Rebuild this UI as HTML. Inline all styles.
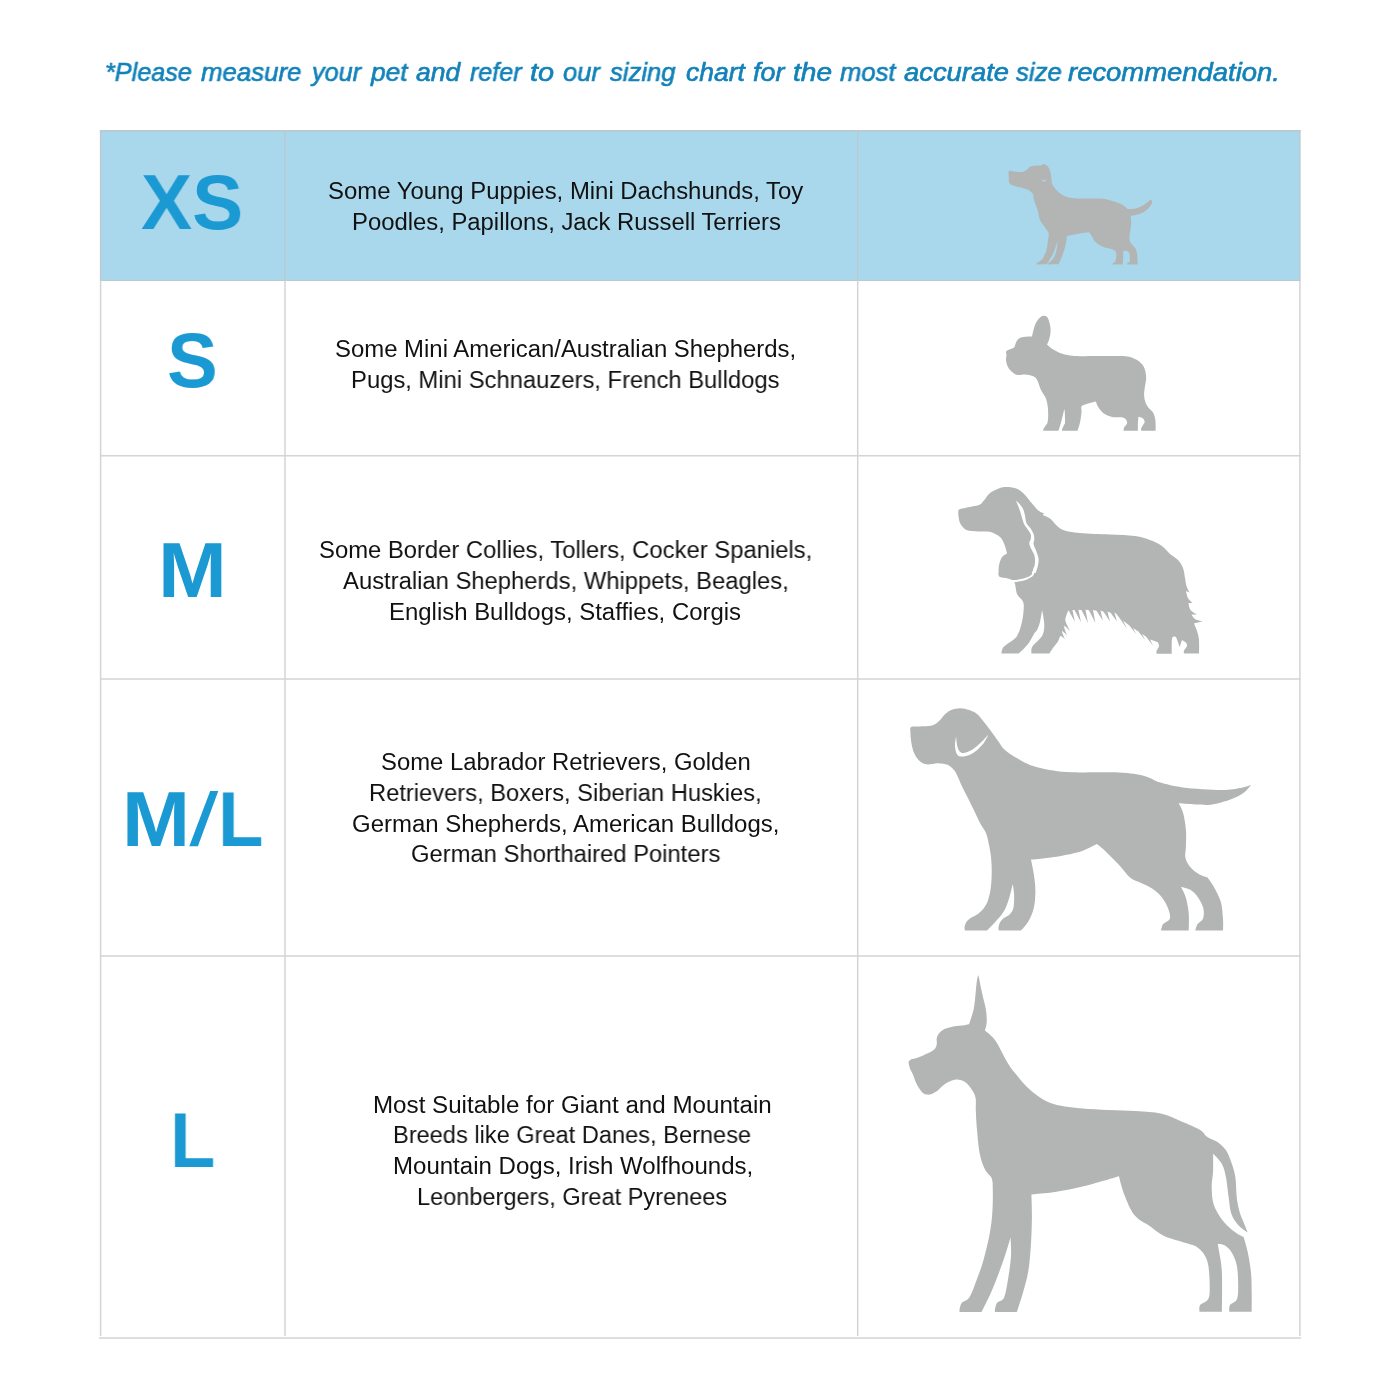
<!DOCTYPE html>
<html><head><meta charset="utf-8"><title>Size Chart</title>
<style>
html,body{margin:0;padding:0;background:#fff;overflow:hidden}
body{width:1400px;height:1400px;position:relative;overflow:hidden;font-family:"Liberation Sans",sans-serif}
.t,.hd,.lb{will-change:transform}
.hd{position:absolute;white-space:nowrap;font-style:italic;font-weight:normal;font-size:26.5px;line-height:40px;color:#1282b9;-webkit-text-stroke:0.65px #1282b9;transform-origin:0 0}
.lb{position:absolute;white-space:nowrap;font-weight:bold;font-size:78px;line-height:100px;color:#1b99d3;transform-origin:0 0}
.t{position:absolute;white-space:nowrap;transform-origin:0 0;font-size:23.85px;line-height:30.75px;color:#111111}
.dogs{position:absolute;left:0;top:0}
</style></head><body>
<span class="hd" style="left:105.3px;top:51.92px;transform:scaleX(0.952)">*Please</span>
<span class="hd" style="left:200.6px;top:51.92px;transform:scaleX(0.975)">measure</span>
<span class="hd" style="left:312.0px;top:51.92px;transform:scaleX(0.951)">your</span>
<span class="hd" style="left:371.0px;top:51.92px;transform:scaleX(0.99)">pet</span>
<span class="hd" style="left:415.7px;top:51.92px;transform:scaleX(0.998)">and</span>
<span class="hd" style="left:470.0px;top:51.92px;transform:scaleX(0.945)">refer</span>
<span class="hd" style="left:530.4px;top:51.92px;transform:scaleX(1.09)">to</span>
<span class="hd" style="left:562.9px;top:51.92px;transform:scaleX(0.963)">our</span>
<span class="hd" style="left:610.0px;top:51.92px;transform:scaleX(0.966)">sizing</span>
<span class="hd" style="left:685.7px;top:51.92px;transform:scaleX(1.0)">chart</span>
<span class="hd" style="left:753.3px;top:51.92px;transform:scaleX(1.013)">for</span>
<span class="hd" style="left:793.3px;top:51.92px;transform:scaleX(1.06)">the</span>
<span class="hd" style="left:840.0px;top:51.92px;transform:scaleX(0.968)">most</span>
<span class="hd" style="left:904.3px;top:51.92px;transform:scaleX(1.033)">accurate</span>
<span class="hd" style="left:1016.0px;top:51.92px;transform:scaleX(0.97)">size</span>
<span class="hd" style="left:1068.0px;top:51.92px;transform:scaleX(1.035)">recommendation.</span>
<div style="position:absolute;left:100px;top:130px;width:1200px;height:150px;background:#a9d8ec"></div>
<svg style="position:absolute;left:0;top:0" width="1400" height="1400"><line x1="99.9" y1="130.9" x2="1300.6" y2="130.9" stroke="#bacad1" stroke-width="1.6"/><line x1="99.9" y1="280.5" x2="1300.6" y2="280.5" stroke="#bacad1" stroke-width="1.2"/><line x1="99.9" y1="455.7" x2="1300.6" y2="455.7" stroke="#d4d4d4" stroke-width="1.5"/><line x1="99.9" y1="678.9" x2="1300.6" y2="678.9" stroke="#d4d4d4" stroke-width="1.5"/><line x1="99.9" y1="956.0" x2="1300.6" y2="956.0" stroke="#d4d4d4" stroke-width="1.5"/><line x1="99.0" y1="1337.9" x2="1301.1" y2="1337.9" stroke="#d4d4d4" stroke-width="1.5"/><line x1="100.6" y1="130.1" x2="100.6" y2="280.5" stroke="#bacad1" stroke-width="1.5"/><line x1="100.6" y1="280.5" x2="100.6" y2="1335.9" stroke="#d4d4d4" stroke-width="1.5"/><line x1="285.0" y1="130.1" x2="285.0" y2="280.5" stroke="#bacad1" stroke-width="1.5"/><line x1="285.0" y1="280.5" x2="285.0" y2="1335.9" stroke="#d4d4d4" stroke-width="1.5"/><line x1="857.7" y1="130.1" x2="857.7" y2="280.5" stroke="#bacad1" stroke-width="1.5"/><line x1="857.7" y1="280.5" x2="857.7" y2="1335.9" stroke="#d4d4d4" stroke-width="1.5"/><line x1="1299.9" y1="130.1" x2="1299.9" y2="280.5" stroke="#bacad1" stroke-width="1.5"/><line x1="1299.9" y1="280.5" x2="1299.9" y2="1335.9" stroke="#d4d4d4" stroke-width="1.5"/></svg>
<div class="lb" style="left:141.02px;top:151.87px;transform:scaleX(0.982)">XS</div>
<div class="lb" style="left:167.15px;top:310.17px;transform:scaleX(0.974)">S</div>
<div class="lb" style="left:157.70px;top:519.97px;transform:scaleX(1.06)">M</div>
<div class="lb" style="left:121.77px;top:768.97px;transform:scaleX(1.047)">M</div>
<div class="lb" style="left:218.44px;top:768.97px;transform:scaleX(0.953)">L</div>
<svg style="position:absolute;left:0;top:0" width="300" height="900"><polygon points="189.3,846.2 197.9,846.2 218.3,791 210.2,791" fill="#1b99d3"/></svg>
<div class="lb" style="left:170.15px;top:1089.77px;transform:scaleX(0.95)">L</div>
<div class="t" style="left:328.0px;top:176.06px;transform:scaleX(1.0025)">Some Young Puppies, Mini Dachshunds, Toy</div>
<div class="t" style="left:351.7px;top:206.56px;transform:scaleX(0.9991)">Poodles, Papillons, Jack Russell Terriers</div>
<div class="t" style="left:334.5px;top:334.26px;transform:scaleX(1.0028)">Some Mini American/Australian Shepherds,</div>
<div class="t" style="left:351.1px;top:365.06px;transform:scaleX(0.9979)">Pugs, Mini Schnauzers, French Bulldogs</div>
<div class="t" style="left:319.0px;top:535.26px;transform:scaleX(0.9988)">Some Border Collies, Tollers, Cocker Spaniels,</div>
<div class="t" style="left:342.9px;top:566.06px;transform:scaleX(0.9982)">Australian Shepherds, Whippets, Beagles,</div>
<div class="t" style="left:389.39px;top:596.76px;transform:scaleX(1.0037)">English Bulldogs, Staffies, Corgis</div>
<div class="t" style="left:381.0px;top:747.06px;transform:scaleX(0.9993)">Some Labrador Retrievers, Golden</div>
<div class="t" style="left:369.11px;top:777.96px;transform:scaleX(0.9944)">Retrievers, Boxers, Siberian Huskies,</div>
<div class="t" style="left:352.0px;top:808.66px;transform:scaleX(1.0045)">German Shepherds, American Bulldogs,</div>
<div class="t" style="left:411.0px;top:839.26px;transform:scaleX(0.9977)">German Shorthaired Pointers</div>
<div class="t" style="left:372.97px;top:1089.56px;transform:scaleX(1.0131)">Most Suitable for Giant and Mountain</div>
<div class="t" style="left:393.32px;top:1120.46px;transform:scaleX(0.9897)">Breeds like Great Danes, Bernese</div>
<div class="t" style="left:392.78px;top:1151.16px;transform:scaleX(1.0079)">Mountain Dogs, Irish Wolfhounds,</div>
<div class="t" style="left:417.43px;top:1181.96px;transform:scaleX(0.9871)">Leonbergers, Great Pyrenees</div>
<svg class="dogs" width="1400" height="1400" viewBox="0 0 1400 1400"><g fill="#b3b5b4"><path d="M1009.0,171.0 C1010.1,170.1 1013.3,171.4 1015.5,171.6 C1017.7,171.8 1020.3,172.3 1022.1,172.0 C1023.9,171.7 1025.0,170.8 1026.4,169.9 C1027.8,169.0 1028.9,167.1 1030.7,166.4 C1032.5,165.7 1035.4,165.8 1037.1,165.6 C1038.8,165.4 1039.8,165.5 1041.0,165.2 C1042.2,164.9 1042.8,163.8 1044.0,164.0 C1045.2,164.2 1046.9,165.3 1047.9,166.4 C1048.9,167.5 1049.4,168.9 1050.0,170.7 C1050.6,172.5 1051.0,174.9 1051.3,177.1 C1051.6,179.2 1051.2,181.4 1052.1,183.6 C1052.9,185.8 1054.2,187.9 1056.4,190.0 C1058.6,192.1 1061.9,194.9 1065.0,196.3 C1068.1,197.7 1070.8,198.0 1075.0,198.3 C1079.2,198.7 1085.3,198.3 1090.0,198.4 C1094.7,198.5 1099.4,198.2 1103.4,198.7 C1107.4,199.2 1111.0,200.4 1114.1,201.4 C1117.2,202.4 1119.9,203.3 1122.1,204.6 C1124.3,205.8 1127.5,208.9 1127.5,208.9 C1127.5,208.9 1133.0,208.9 1135.5,208.4 C1138.0,207.9 1140.5,206.8 1142.5,205.7 C1144.5,204.6 1146.5,202.9 1147.8,202.0 C1149.1,201.1 1149.8,200.2 1150.5,200.1 C1151.2,200.0 1151.9,200.7 1152.1,201.4 C1152.3,202.1 1152.3,202.8 1151.6,204.1 C1150.9,205.3 1149.3,207.5 1147.8,208.9 C1146.3,210.3 1144.4,211.7 1142.5,212.7 C1140.6,213.7 1138.6,214.3 1136.6,214.8 C1134.6,215.3 1130.7,215.9 1130.7,215.9 C1130.7,215.9 1131.2,219.8 1131.2,221.8 C1131.2,223.9 1131.0,226.0 1130.7,228.2 C1130.4,230.4 1129.8,233.1 1129.6,235.2 C1129.4,237.2 1129.3,238.9 1129.8,240.5 C1130.2,242.1 1131.3,243.5 1132.3,244.8 C1133.2,246.2 1134.7,247.1 1135.5,248.6 C1136.3,250.1 1136.7,251.2 1137.1,253.9 C1137.5,256.6 1137.7,264.6 1137.7,264.6 C1137.7,264.6 1127.0,264.6 1127.0,264.6 C1127.0,264.6 1127.1,263.5 1127.5,263.0 C1127.9,262.5 1129.2,262.5 1129.6,261.4 C1130.0,260.3 1130.0,258.0 1129.9,256.6 C1129.8,255.2 1129.7,253.8 1129.1,252.8 C1128.5,251.8 1127.4,251.0 1126.4,250.7 C1125.4,250.4 1123.2,251.2 1123.2,251.2 C1123.2,251.2 1123.2,254.4 1123.2,256.6 C1123.2,258.8 1122.9,264.6 1122.9,264.6 C1122.9,264.6 1112.5,264.6 1112.5,264.6 C1112.5,264.6 1112.5,263.5 1113.0,263.0 C1113.5,262.5 1114.7,262.5 1115.2,261.4 C1115.7,260.3 1116.1,258.2 1116.2,256.6 C1116.3,255.0 1116.5,253.1 1115.7,251.8 C1114.9,250.6 1113.5,249.9 1111.4,249.1 C1109.4,248.3 1106.1,248.2 1103.4,247.0 C1100.7,245.8 1097.4,244.0 1095.4,242.1 C1093.4,240.2 1092.7,237.3 1091.6,235.7 C1090.5,234.1 1089.0,232.3 1089.0,232.3 C1089.0,232.3 1083.7,232.9 1080.0,233.5 C1076.3,234.1 1067.0,236.0 1067.0,236.0 C1067.0,236.0 1066.8,238.1 1066.5,240.0 C1066.2,241.9 1065.7,245.0 1065.0,247.5 C1064.3,250.0 1063.2,252.9 1062.5,255.0 C1061.8,257.1 1061.2,258.4 1060.5,260.0 C1059.8,261.6 1058.5,264.3 1058.5,264.3 C1058.5,264.3 1048.0,264.5 1048.0,264.5 C1048.0,264.5 1047.8,263.8 1048.5,263.0 C1049.2,262.2 1050.9,261.3 1052.0,260.0 C1053.1,258.7 1054.2,257.1 1055.0,255.0 C1055.8,252.9 1056.6,249.8 1057.0,247.5 C1057.4,245.2 1057.6,241.0 1057.6,241.0 C1057.6,241.0 1056.3,245.2 1055.5,247.5 C1054.7,249.8 1053.4,253.1 1052.5,255.0 C1051.6,256.9 1050.9,257.4 1050.0,259.0 C1049.1,260.6 1047.0,264.3 1047.0,264.3 C1047.0,264.3 1036.5,264.5 1036.5,264.5 C1036.5,264.5 1036.2,263.8 1037.0,263.0 C1037.8,262.2 1040.3,261.2 1041.5,260.0 C1042.7,258.8 1043.2,257.7 1044.0,256.0 C1044.8,254.3 1045.8,252.7 1046.5,250.0 C1047.2,247.3 1047.7,242.8 1048.0,240.0 C1048.3,237.2 1049.2,235.3 1048.5,233.0 C1047.8,230.7 1045.4,228.2 1044.0,226.0 C1042.6,223.8 1041.1,222.7 1040.0,220.0 C1038.9,217.3 1038.5,213.3 1037.5,210.0 C1036.5,206.7 1034.8,202.6 1034.0,200.0 C1033.2,197.4 1033.8,196.0 1032.9,194.3 C1032.0,192.6 1030.4,191.1 1028.6,190.0 C1026.8,188.9 1024.6,188.6 1022.1,187.9 C1019.6,187.2 1015.7,186.5 1013.6,185.7 C1011.5,184.9 1010.1,184.5 1009.3,183.1 C1008.5,181.7 1008.8,179.0 1008.8,177.0 C1008.8,175.0 1007.9,171.9 1009.0,171.0 Z"/><path d="M1006.0,352.0 C1006.2,351.2 1006.7,350.8 1008.0,350.0 C1009.3,349.2 1012.7,348.8 1014.0,347.5 C1015.3,346.2 1015.2,344.0 1016.0,342.5 C1016.8,341.0 1017.5,339.5 1019.0,338.5 C1020.5,337.5 1022.8,337.1 1025.0,336.8 C1027.2,336.4 1032.0,336.5 1032.0,336.5 C1032.0,336.5 1033.8,328.0 1035.0,325.0 C1036.2,322.0 1037.6,320.0 1039.0,318.5 C1040.4,317.0 1042.1,315.9 1043.5,315.8 C1044.9,315.6 1046.4,316.0 1047.5,317.5 C1048.6,319.0 1049.5,322.5 1050.0,325.0 C1050.5,327.5 1050.7,330.0 1050.5,332.5 C1050.3,335.0 1049.6,338.0 1049.0,340.0 C1048.4,342.0 1047.0,344.5 1047.0,344.5 C1047.0,344.5 1050.3,347.6 1052.5,349.0 C1054.7,350.4 1057.1,351.9 1060.0,353.0 C1062.9,354.1 1066.7,355.0 1070.0,355.5 C1073.3,356.0 1075.8,356.1 1080.0,356.2 C1084.2,356.4 1087.7,356.1 1095.0,356.1 C1102.3,356.1 1116.9,355.6 1123.6,356.1 C1130.3,356.6 1132.0,357.7 1135.0,359.0 C1138.0,360.3 1140.2,362.1 1141.9,364.1 C1143.6,366.1 1144.6,368.5 1145.3,371.0 C1146.0,373.5 1146.2,376.1 1146.1,379.0 C1146.0,381.9 1145.0,385.4 1144.7,388.1 C1144.4,390.8 1144.0,392.7 1144.1,395.0 C1144.2,397.3 1144.5,399.7 1145.3,401.9 C1146.1,404.1 1147.5,406.4 1148.7,408.1 C1149.9,409.8 1151.7,410.5 1152.7,412.1 C1153.8,413.7 1154.5,416.0 1155.0,417.9 C1155.5,419.8 1155.5,421.5 1155.6,423.6 C1155.7,425.7 1155.6,430.7 1155.6,430.7 C1155.6,430.7 1141.3,430.7 1141.3,430.7 C1141.3,430.7 1140.9,429.2 1141.3,428.1 C1141.7,427.0 1143.0,425.1 1143.6,424.1 C1144.2,423.1 1144.8,422.8 1144.7,421.9 C1144.6,420.9 1144.0,419.3 1143.0,418.4 C1142.0,417.5 1138.4,416.7 1138.4,416.7 C1138.4,416.7 1138.0,421.3 1137.9,423.6 C1137.8,425.9 1137.9,430.7 1137.9,430.7 C1137.9,430.7 1123.6,430.7 1123.6,430.7 C1123.6,430.7 1123.5,428.8 1124.1,427.6 C1124.7,426.4 1126.7,424.9 1127.0,423.6 C1127.3,422.3 1126.8,420.7 1125.9,419.6 C1125.1,418.6 1124.2,417.7 1121.9,417.3 C1119.6,416.9 1115.1,417.7 1112.1,417.0 C1109.0,416.3 1106.0,415.1 1103.6,413.3 C1101.2,411.5 1099.2,408.4 1097.9,406.4 C1096.6,404.4 1096.0,401.5 1096.0,401.5 C1096.0,401.5 1091.8,402.5 1090.0,403.0 C1088.2,403.5 1086.4,403.9 1085.0,404.5 C1083.6,405.1 1082.1,405.2 1081.5,406.5 C1080.9,407.8 1081.8,409.8 1081.5,412.5 C1081.2,415.2 1080.7,419.5 1080.0,422.5 C1079.3,425.5 1077.5,430.8 1077.5,430.8 C1077.5,430.8 1062.0,430.8 1062.0,430.8 C1062.0,430.8 1061.9,430.0 1062.2,429.0 C1062.6,428.0 1063.5,426.1 1064.0,425.0 C1064.5,423.9 1064.9,424.6 1065.0,422.5 C1065.1,420.4 1064.9,414.8 1064.8,412.5 C1064.6,410.2 1064.2,409.0 1064.2,409.0 C1064.2,409.0 1064.0,410.2 1063.5,412.5 C1063.0,414.8 1061.8,419.5 1061.0,422.5 C1060.2,425.5 1058.5,430.8 1058.5,430.8 C1058.5,430.8 1043.2,430.8 1043.2,430.8 C1043.2,430.8 1043.0,430.0 1043.5,429.0 C1044.0,428.0 1045.3,426.1 1046.0,425.0 C1046.7,423.9 1047.1,424.2 1047.5,422.5 C1047.9,420.8 1048.2,417.9 1048.2,415.0 C1048.2,412.1 1048.0,407.9 1047.5,405.0 C1047.0,402.1 1046.6,400.0 1045.5,397.5 C1044.4,395.0 1042.4,393.0 1041.0,390.0 C1039.6,387.0 1038.3,381.7 1036.9,379.4 C1035.5,377.1 1034.5,376.8 1032.5,376.0 C1030.5,375.2 1027.5,374.7 1025.0,374.5 C1022.5,374.3 1019.8,375.5 1017.5,375.0 C1015.2,374.5 1013.2,373.0 1011.5,371.5 C1009.8,370.0 1008.4,367.9 1007.5,366.0 C1006.6,364.1 1006.2,361.8 1006.0,360.0 C1005.8,358.2 1006.5,356.3 1006.5,355.0 C1006.5,353.7 1005.8,352.8 1006.0,352.0 Z"/><path d="M958.6,510.0 C959.5,508.3 962.1,508.8 964.3,508.2 C966.5,507.6 969.4,507.1 972.0,506.5 C974.6,505.9 978.0,505.7 980.0,504.6 C982.0,503.5 982.6,501.9 984.3,500.0 C986.0,498.1 987.4,494.9 990.0,492.9 C992.6,490.9 996.9,488.9 1000.0,487.9 C1003.1,486.9 1005.6,486.9 1008.6,487.1 C1011.6,487.3 1015.0,487.9 1017.9,489.3 C1020.8,490.7 1023.3,493.3 1025.7,495.7 C1028.1,498.1 1029.9,501.1 1032.1,503.6 C1034.2,506.1 1036.4,509.0 1038.6,510.7 C1040.8,512.4 1045.0,513.6 1045.0,513.6 C1045.0,513.6 1042.2,514.2 1043.0,515.0 C1043.8,515.8 1046.9,516.2 1050.0,518.6 C1053.1,521.0 1056.4,526.8 1061.4,529.2 C1066.4,531.6 1071.9,532.1 1080.0,533.0 C1088.1,533.9 1100.8,534.0 1110.0,534.5 C1119.2,535.0 1128.3,535.1 1135.0,536.0 C1141.7,536.9 1145.5,538.3 1150.0,540.0 C1154.5,541.7 1158.7,543.7 1162.0,546.0 C1165.3,548.3 1167.3,551.7 1170.0,554.0 C1172.7,556.3 1175.8,557.7 1178.0,560.0 C1180.2,562.3 1181.8,565.0 1183.0,568.0 C1184.2,571.0 1184.4,575.0 1185.0,578.0 C1185.6,581.0 1185.8,583.6 1186.5,586.0 C1187.2,588.4 1189.5,592.5 1189.5,592.5 C1189.5,592.5 1186.0,591.0 1186.0,591.0 C1186.0,591.0 1186.9,596.0 1188.0,598.0 C1189.1,600.0 1192.5,603.0 1192.5,603.0 C1192.5,603.0 1188.5,603.0 1188.5,603.0 C1188.5,603.0 1189.1,608.1 1190.5,610.0 C1191.9,611.9 1197.0,614.5 1197.0,614.5 C1197.0,614.5 1191.5,614.5 1191.5,614.5 C1191.5,614.5 1193.1,617.8 1195.0,619.0 C1196.9,620.2 1202.7,621.6 1202.7,621.6 C1202.7,621.6 1194.0,623.5 1194.0,623.5 C1194.0,623.5 1196.2,628.2 1197.0,631.0 C1197.8,633.8 1198.7,636.2 1199.0,640.0 C1199.3,643.8 1199.0,653.5 1199.0,653.5 C1199.0,653.5 1184.0,653.5 1184.0,653.5 C1184.0,653.5 1183.5,651.8 1184.0,650.5 C1184.5,649.2 1186.7,647.3 1187.0,646.0 C1187.3,644.7 1186.0,642.5 1186.0,642.5 C1186.0,642.5 1182.0,640.0 1182.0,640.0 C1182.0,640.0 1179.7,647.1 1179.7,647.1 C1179.7,647.1 1176.5,638.0 1176.5,638.0 C1176.5,638.0 1175.5,636.3 1174.8,636.5 C1174.0,636.7 1172.5,636.1 1172.0,639.0 C1171.5,641.9 1171.8,653.8 1171.8,653.8 C1171.8,653.8 1156.6,653.8 1156.6,653.8 C1156.6,653.8 1156.2,652.0 1156.6,650.7 C1157.0,649.4 1158.8,647.5 1159.0,646.0 C1159.2,644.5 1157.5,642.0 1157.5,642.0 C1157.5,642.0 1150.0,639.4 1150.0,639.4 C1150.0,639.4 1153.5,646.5 1153.5,646.5 C1153.5,646.5 1146.0,636.6 1146.0,636.6 C1146.0,636.6 1142.0,633.9 1142.0,633.9 C1142.0,633.9 1145.5,640.5 1145.5,640.5 C1145.5,640.5 1138.0,631.1 1138.0,631.1 C1138.0,631.1 1133.0,627.9 1133.0,627.9 C1133.0,627.9 1136.5,634.5 1136.5,634.5 C1136.5,634.5 1129.0,625.1 1129.0,625.1 C1129.0,625.1 1123.0,620.4 1123.0,620.4 C1123.0,620.4 1127.0,628.5 1127.0,628.5 C1127.0,628.5 1119.0,617.2 1119.0,617.2 C1119.0,617.2 1116.8,614.3 1116.0,613.5 C1115.2,612.7 1114.5,612.5 1114.5,612.5 C1114.5,612.5 1117.0,621.5 1117.0,621.5 C1117.0,621.5 1110.5,612.8 1110.5,612.8 C1110.5,612.8 1107.5,611.5 1107.5,611.5 C1107.5,611.5 1110.0,621.5 1110.0,621.5 C1110.0,621.5 1103.5,611.8 1103.5,611.8 C1103.5,611.8 1100.5,610.5 1100.5,610.5 C1100.5,610.5 1103.0,620.8 1103.0,620.8 C1103.0,620.8 1096.5,610.8 1096.5,610.8 C1096.5,610.8 1093.0,610.0 1093.0,610.0 C1093.0,610.0 1095.5,623.0 1095.5,623.0 C1095.5,623.0 1089.0,610.3 1089.0,610.3 C1089.0,610.3 1085.5,609.8 1085.5,609.8 C1085.5,609.8 1088.0,622.8 1088.0,622.8 C1088.0,622.8 1081.5,610.1 1081.5,610.1 C1081.5,610.1 1078.5,609.8 1078.5,609.8 C1078.5,609.8 1081.0,622.3 1081.0,622.3 C1081.0,622.3 1074.5,610.1 1074.5,610.1 C1074.5,610.1 1072.5,610.0 1072.5,610.0 C1072.5,610.0 1075.0,622.0 1075.0,622.0 C1075.0,622.0 1068.5,610.3 1068.5,610.3 C1068.5,610.3 1067.0,613.2 1066.5,615.0 C1066.0,616.8 1064.9,618.4 1065.5,621.0 C1066.1,623.6 1070.0,630.9 1070.0,630.9 C1070.0,630.9 1064.5,625.2 1064.0,626.0 C1063.5,626.8 1067.1,635.4 1067.1,635.4 C1067.1,635.4 1062.4,630.3 1062.0,631.0 C1061.6,631.7 1064.9,639.4 1064.9,639.4 C1064.9,639.4 1061.6,635.7 1060.5,636.0 C1059.4,636.3 1059.5,639.0 1058.2,641.0 C1057.0,643.0 1054.5,645.9 1053.0,648.0 C1051.5,650.1 1049.3,653.6 1049.3,653.6 C1049.3,653.6 1031.4,653.6 1031.4,653.6 C1031.4,653.6 1031.2,650.6 1031.4,649.3 C1031.7,648.0 1031.7,647.2 1032.9,645.7 C1034.1,644.2 1036.9,641.9 1038.6,640.0 C1040.3,638.1 1042.0,636.9 1042.9,634.3 C1043.9,631.7 1044.4,628.3 1044.3,624.3 C1044.2,620.2 1042.1,610.0 1042.1,610.0 C1042.1,610.0 1040.8,618.7 1040.0,622.0 C1039.2,625.3 1038.0,628.1 1037.0,630.0 C1036.0,631.9 1035.8,631.2 1034.3,633.6 C1032.8,636.0 1030.5,641.0 1027.9,644.3 C1025.3,647.6 1018.6,653.6 1018.6,653.6 C1018.6,653.6 1001.4,653.6 1001.4,653.6 C1001.4,653.6 1001.8,649.6 1002.9,647.9 C1004.0,646.2 1005.6,645.4 1007.9,643.6 C1010.1,641.8 1014.1,640.3 1016.4,637.1 C1018.6,633.9 1020.2,628.8 1021.4,624.3 C1022.6,619.8 1023.4,613.8 1023.6,610.0 C1023.9,606.2 1024.0,604.0 1022.9,601.4 C1021.8,598.8 1018.5,597.5 1017.1,594.3 C1015.7,591.1 1015.8,584.7 1014.3,582.1 C1012.8,579.5 1010.4,579.6 1007.9,578.6 C1005.4,577.6 1000.8,577.6 999.3,576.4 C997.8,575.2 998.6,573.5 998.6,571.4 C998.6,569.3 998.7,566.4 999.3,564.0 C999.9,561.6 1000.8,558.8 1002.1,557.1 C1003.4,555.4 1007.1,553.6 1007.1,553.6 C1007.1,553.6 1005.5,547.0 1004.3,544.3 C1003.1,541.5 1002.3,539.1 1000.0,537.1 C997.7,535.1 994.3,533.1 990.7,532.1 C987.1,531.1 982.7,531.8 978.6,531.4 C974.5,531.0 969.4,531.2 966.4,530.0 C963.4,528.8 962.0,526.2 960.7,524.3 C959.5,522.4 959.2,521.0 958.9,518.6 C958.5,516.2 957.7,511.7 958.6,510.0 Z"/><path d="M911.1,727.1 C912.6,726.1 915.8,726.7 919.3,726.4 C922.8,726.1 928.8,726.3 932.1,725.4 C935.4,724.5 937.1,722.6 939.3,720.7 C941.4,718.9 943.0,716.1 945.0,714.3 C947.0,712.5 948.9,711.0 951.4,710.0 C953.9,709.0 957.0,708.2 960.0,708.2 C963.0,708.2 966.6,709.1 969.3,710.0 C972.0,710.9 974.0,711.7 976.4,713.6 C978.8,715.5 981.2,718.5 983.6,721.4 C986.0,724.2 988.3,727.5 990.7,730.7 C993.1,733.9 995.5,737.5 997.9,740.7 C1000.3,743.9 1001.2,746.7 1005.0,750.0 C1008.8,753.3 1015.7,757.6 1020.9,760.4 C1026.1,763.2 1028.6,765.0 1036.3,766.9 C1044.0,768.8 1053.4,771.1 1067.1,772.0 C1080.8,772.9 1105.7,771.9 1118.6,772.5 C1131.5,773.1 1137.4,774.3 1144.3,775.9 C1151.2,777.5 1153.3,780.4 1159.7,782.3 C1166.1,784.2 1172.6,786.1 1182.9,787.4 C1193.2,788.7 1211.9,789.9 1221.4,790.0 C1230.9,790.1 1235.1,788.9 1240.0,788.0 C1244.9,787.1 1251.0,784.9 1251.0,784.9 C1251.0,784.9 1246.5,791.1 1242.0,793.9 C1237.5,796.7 1229.8,799.8 1224.0,801.6 C1218.2,803.4 1215.0,804.6 1207.5,804.9 C1200.0,805.2 1178.7,803.3 1178.7,803.3 C1178.7,803.3 1182.0,808.8 1183.2,813.2 C1184.4,817.6 1185.5,824.3 1185.9,829.8 C1186.4,835.3 1186.0,841.8 1185.9,846.4 C1185.8,851.0 1184.8,854.2 1185.4,857.5 C1186.1,860.8 1187.6,863.6 1189.8,866.4 C1192.0,869.2 1195.8,872.2 1198.7,874.1 C1201.7,876.0 1207.5,877.5 1207.5,877.5 C1207.5,877.5 1212.0,883.4 1214.2,887.4 C1216.4,891.4 1219.3,896.6 1220.8,901.8 C1222.3,907.0 1222.6,913.6 1223.0,918.4 C1223.4,923.2 1223.0,930.6 1223.0,930.6 C1223.0,930.6 1195.3,930.6 1195.3,930.6 C1195.3,930.6 1196.3,926.0 1197.6,924.0 C1198.9,922.0 1202.2,921.2 1203.1,918.4 C1204.0,915.6 1204.2,911.3 1203.1,907.4 C1202.0,903.5 1198.8,898.2 1196.4,895.2 C1194.0,892.2 1191.3,890.5 1188.7,889.1 C1186.1,887.7 1180.9,886.9 1180.9,886.9 C1180.9,886.9 1184.1,892.0 1185.4,896.3 C1186.7,900.6 1188.2,907.2 1188.7,912.9 C1189.2,918.6 1188.7,930.6 1188.7,930.6 C1188.7,930.6 1161.0,930.6 1161.0,930.6 C1161.0,930.6 1161.7,926.0 1163.2,924.0 C1164.7,922.0 1169.2,921.2 1169.9,918.4 C1170.7,915.6 1169.2,911.1 1167.7,907.4 C1166.2,903.7 1163.6,899.4 1161.0,896.3 C1158.4,893.1 1155.4,890.7 1152.1,888.5 C1148.8,886.3 1144.8,884.8 1141.1,883.0 C1137.4,881.2 1133.8,880.6 1130.0,877.5 C1126.2,874.4 1123.1,869.3 1118.6,864.6 C1114.1,859.9 1106.8,852.5 1103.1,849.1 C1099.4,845.7 1096.7,844.0 1096.7,844.0 C1096.7,844.0 1087.1,849.5 1080.0,851.7 C1072.9,853.9 1060.1,856.0 1054.3,857.1 C1048.5,858.2 1048.0,857.9 1045.0,858.3 C1042.0,858.7 1038.8,859.1 1036.5,859.3 C1034.2,859.5 1031.0,859.7 1031.0,859.7 C1031.0,859.7 1033.1,868.7 1033.8,873.9 C1034.5,879.1 1035.4,885.2 1035.4,890.9 C1035.4,896.6 1035.0,902.8 1033.8,907.9 C1032.6,913.0 1030.5,917.7 1028.3,921.5 C1026.1,925.3 1020.9,930.6 1020.9,930.6 C1020.9,930.6 999.1,930.6 999.1,930.6 C999.1,930.6 998.3,929.6 998.4,928.3 C998.5,927.0 998.9,924.5 999.8,922.8 C1000.7,921.1 1002.3,919.5 1003.9,918.1 C1005.5,916.8 1007.7,916.4 1009.3,914.7 C1010.9,913.0 1012.6,911.3 1013.4,907.9 C1014.2,904.5 1014.2,898.3 1014.1,894.3 C1014.0,890.3 1012.7,884.1 1012.7,884.1 C1012.7,884.1 1010.8,893.2 1009.3,897.7 C1007.8,902.2 1006.2,907.3 1003.9,911.3 C1001.6,915.3 998.5,918.3 995.7,921.5 C992.9,924.7 986.9,930.6 986.9,930.6 C986.9,930.6 965.2,930.6 965.2,930.6 C965.2,930.6 964.4,929.6 964.5,928.3 C964.6,927.0 964.9,924.5 965.9,922.8 C966.9,921.1 968.5,919.7 970.6,918.1 C972.8,916.5 976.2,915.6 978.8,913.3 C981.4,911.0 984.3,908.2 986.2,904.5 C988.1,900.8 989.4,896.0 990.3,890.9 C991.2,885.8 991.6,879.5 991.7,873.9 C991.8,868.2 991.6,862.6 991.0,857.0 C990.4,851.4 988.9,844.2 988.0,840.0 C987.1,835.8 986.8,834.9 985.5,832.0 C984.2,829.1 982.1,826.8 980.0,822.9 C977.9,819.0 975.2,812.9 973.1,808.6 C971.0,804.3 969.3,800.9 967.4,797.1 C965.5,793.3 963.5,789.5 961.7,785.7 C959.9,781.9 958.1,777.1 956.6,774.3 C955.1,771.4 954.2,770.2 952.6,768.6 C951.0,767.0 949.0,765.5 946.9,764.6 C944.8,763.7 941.6,763.6 940.0,763.4 C938.4,763.2 939.4,763.1 937.1,763.2 C934.8,763.4 929.4,764.7 926.4,764.3 C923.4,763.9 921.3,762.5 919.3,760.7 C917.3,758.9 915.6,756.6 914.3,753.6 C913.0,750.6 912.0,746.5 911.4,742.9 C910.8,739.3 910.4,734.7 910.4,732.1 C910.4,729.5 909.6,728.1 911.1,727.1 Z"/><path d="M908.8,1061.6 C909.1,1060.8 909.9,1060.0 911.0,1059.4 C912.1,1058.8 913.6,1058.9 915.7,1058.2 C917.8,1057.5 920.7,1056.5 923.6,1055.2 C926.5,1053.9 930.7,1052.3 932.9,1050.6 C935.1,1048.9 935.9,1047.5 936.6,1045.2 C937.3,1042.9 936.1,1039.4 937.0,1036.9 C937.9,1034.4 939.4,1032.1 942.1,1030.4 C944.8,1028.7 949.6,1027.5 953.3,1026.6 C957.0,1025.7 961.8,1025.6 964.4,1025.2 C967.0,1024.8 969.1,1024.3 969.1,1024.3 C969.1,1024.3 972.6,1014.2 973.7,1009.0 C974.8,1003.8 975.1,998.0 975.6,993.2 C976.1,988.4 976.5,983.2 977.0,980.2 C977.5,977.2 978.4,975.1 978.4,975.1 C978.4,975.1 980.9,987.6 982.1,993.2 C983.3,998.9 985.0,1004.2 985.8,1009.0 C986.6,1013.8 986.9,1018.4 986.7,1022.0 C986.6,1025.6 984.9,1030.4 984.9,1030.4 C984.9,1030.4 988.5,1033.2 990.4,1035.0 C992.2,1036.8 994.1,1038.7 996.0,1041.5 C997.9,1044.3 999.8,1048.3 1001.6,1051.7 C1003.5,1055.1 1004.9,1058.3 1007.1,1061.9 C1009.3,1065.5 1011.1,1068.4 1015.0,1073.1 C1018.9,1077.8 1024.3,1085.1 1030.3,1090.1 C1036.3,1095.1 1042.5,1100.2 1051.2,1103.2 C1059.9,1106.2 1068.6,1107.1 1082.5,1108.4 C1096.4,1109.7 1121.6,1110.1 1134.6,1111.0 C1147.6,1111.9 1152.9,1111.9 1160.7,1113.6 C1168.5,1115.3 1174.9,1118.7 1181.5,1121.4 C1188.1,1124.1 1196.0,1127.4 1200.2,1130.0 C1204.5,1132.6 1204.1,1134.8 1207.0,1136.8 C1209.9,1138.8 1214.6,1140.0 1217.8,1142.2 C1221.0,1144.5 1223.7,1146.9 1226.0,1150.3 C1228.3,1153.7 1229.8,1158.1 1231.4,1162.6 C1233.0,1167.1 1234.5,1171.6 1235.4,1177.5 C1236.3,1183.4 1236.1,1192.1 1236.8,1197.8 C1237.5,1203.5 1238.4,1207.3 1239.5,1211.4 C1240.6,1215.5 1242.2,1218.7 1243.6,1222.2 C1245.0,1225.7 1247.7,1232.4 1247.7,1232.4 C1247.7,1232.4 1240.9,1228.0 1238.2,1224.9 C1235.5,1221.9 1233.0,1218.6 1231.4,1214.1 C1229.8,1209.6 1229.6,1203.9 1228.7,1197.8 C1227.8,1191.7 1227.1,1183.2 1226.0,1177.5 C1224.9,1171.8 1224.1,1167.9 1221.9,1163.9 C1219.8,1159.9 1213.1,1153.7 1213.1,1153.7 C1213.1,1153.7 1213.3,1165.2 1213.1,1170.7 C1212.9,1176.2 1211.6,1181.3 1211.7,1187.0 C1211.8,1192.7 1212.0,1199.2 1213.7,1204.6 C1215.4,1210.0 1218.7,1215.2 1221.9,1219.5 C1225.1,1223.8 1229.1,1227.5 1232.7,1230.4 C1236.3,1233.3 1243.6,1237.1 1243.6,1237.1 C1243.6,1237.1 1246.5,1246.2 1247.7,1252.1 C1248.9,1258.0 1250.3,1265.6 1251.0,1272.4 C1251.7,1279.2 1251.6,1286.2 1251.7,1292.8 C1251.8,1299.3 1251.7,1311.7 1251.7,1311.7 C1251.7,1311.7 1229.3,1311.7 1229.3,1311.7 C1229.3,1311.7 1228.8,1307.0 1230.0,1305.0 C1231.2,1303.0 1235.4,1302.7 1236.8,1299.5 C1238.2,1296.3 1238.2,1291.7 1238.2,1286.0 C1238.2,1280.3 1237.9,1271.2 1236.8,1265.6 C1235.7,1259.9 1233.4,1255.5 1231.4,1252.1 C1229.4,1248.7 1226.9,1246.7 1224.6,1245.3 C1222.3,1243.9 1217.8,1243.9 1217.8,1243.9 C1217.8,1243.9 1218.5,1247.3 1219.2,1252.1 C1219.9,1256.8 1221.5,1262.5 1221.9,1272.4 C1222.4,1282.3 1221.9,1311.7 1221.9,1311.7 C1221.9,1311.7 1199.5,1311.7 1199.5,1311.7 C1199.5,1311.7 1198.7,1307.1 1200.2,1305.0 C1201.7,1302.9 1206.7,1302.1 1208.3,1298.9 C1209.9,1295.7 1209.7,1291.5 1209.7,1286.0 C1209.7,1280.5 1209.2,1270.8 1208.3,1265.6 C1207.4,1260.4 1206.3,1258.0 1204.3,1254.8 C1202.3,1251.6 1199.5,1248.6 1196.1,1246.6 C1192.7,1244.6 1189.3,1244.4 1183.9,1242.6 C1178.5,1240.8 1169.2,1238.5 1163.6,1235.8 C1157.9,1233.1 1154.8,1229.7 1150.0,1226.3 C1145.2,1222.9 1138.9,1220.6 1134.6,1215.3 C1130.3,1210.0 1126.8,1200.9 1124.2,1194.4 C1121.6,1187.9 1119.0,1176.2 1119.0,1176.2 C1119.0,1176.2 1092.9,1184.0 1082.5,1186.6 C1072.1,1189.2 1063.3,1190.6 1056.4,1191.8 C1049.5,1193.0 1045.2,1193.1 1041.0,1193.6 C1036.8,1194.1 1031.4,1194.6 1031.4,1194.6 C1031.4,1194.6 1032.0,1209.8 1031.9,1218.2 C1031.8,1226.6 1031.5,1236.1 1030.9,1245.0 C1030.3,1253.9 1029.6,1263.7 1028.2,1271.7 C1026.8,1279.7 1024.7,1286.5 1022.8,1293.2 C1020.9,1299.9 1016.9,1311.9 1016.9,1311.9 C1016.9,1311.9 995.0,1311.9 995.0,1311.9 C995.0,1311.9 994.6,1310.7 995.0,1309.2 C995.4,1307.7 995.6,1304.8 997.1,1302.8 C998.6,1300.8 1002.2,1301.8 1004.1,1297.5 C1006.0,1293.2 1007.2,1284.1 1008.4,1277.1 C1009.5,1270.1 1010.6,1262.3 1011.0,1255.7 C1011.4,1249.1 1010.5,1237.5 1010.5,1237.5 C1010.5,1237.5 1007.6,1247.8 1005.7,1253.5 C1003.8,1259.2 1001.8,1265.1 999.3,1271.7 C996.8,1278.3 993.7,1286.5 990.7,1293.2 C987.8,1299.9 981.6,1311.9 981.6,1311.9 C981.6,1311.9 959.6,1311.9 959.6,1311.9 C959.6,1311.9 959.2,1310.7 959.6,1309.2 C960.0,1307.7 960.2,1304.8 961.8,1302.8 C963.4,1300.8 967.0,1300.9 969.3,1297.5 C971.6,1294.1 973.4,1288.6 975.7,1282.5 C978.0,1276.4 980.9,1269.0 983.2,1261.0 C985.5,1253.0 988.1,1242.3 989.6,1234.3 C991.1,1226.3 991.8,1219.9 992.3,1212.8 C992.8,1205.7 992.9,1197.1 992.8,1191.4 C992.7,1185.7 993.0,1182.2 991.8,1178.6 C990.5,1175.0 987.3,1173.9 985.3,1170.0 C983.3,1166.1 981.4,1161.7 980.0,1155.0 C978.6,1148.3 977.7,1137.5 977.0,1130.0 C976.3,1122.5 976.0,1115.3 975.8,1110.0 C975.6,1104.7 976.2,1101.5 975.6,1098.1 C975.0,1094.7 973.6,1092.4 971.9,1089.8 C970.2,1087.2 967.9,1084.0 965.4,1082.3 C962.9,1080.6 959.6,1079.8 957.0,1079.6 C954.4,1079.4 951.6,1080.7 949.6,1081.4 C947.6,1082.1 946.5,1082.9 945.0,1083.9 C943.5,1084.9 942.0,1086.3 940.7,1087.5 C939.4,1088.7 938.6,1090.0 937.1,1091.1 C935.6,1092.2 933.5,1093.3 931.8,1093.9 C930.1,1094.5 928.6,1094.8 927.1,1094.6 C925.6,1094.4 924.2,1093.9 922.9,1092.9 C921.6,1091.9 920.5,1090.4 919.3,1088.6 C918.1,1086.8 916.7,1084.4 915.7,1082.1 C914.7,1079.8 914.1,1077.1 913.2,1075.0 C912.3,1072.9 911.1,1071.3 910.4,1069.6 C909.7,1067.8 909.2,1065.8 908.9,1064.5 C908.6,1063.2 908.4,1062.4 908.8,1061.6 Z"/></g><path d="M1041.2,179.0 Q1043.9,184.2 1046.8,179.2 Q1043.9,181.6 1041.2,179.0 Z" fill="#c0d2da"/><path d="M1016.1,501.1 C1016.1,501.1 1017.7,504.7 1018.6,507.1 C1019.5,509.5 1020.6,513.1 1021.4,515.7 C1022.2,518.3 1022.7,520.8 1023.6,522.9 C1024.5,525.0 1025.9,526.7 1027.1,528.6 C1028.3,530.5 1030.1,532.5 1030.7,534.3 C1031.3,536.1 1030.9,537.9 1030.7,539.3 C1030.5,540.7 1029.3,541.5 1029.3,542.9 C1029.3,544.3 1029.9,545.9 1030.7,547.9 C1031.5,549.9 1033.6,552.6 1034.3,555.0 C1035.0,557.4 1035.1,559.7 1035.0,562.1 C1034.9,564.5 1034.2,567.5 1033.6,569.3 C1033.0,571.1 1031.5,573.0 1031.5,573.0 C1031.5,573.0 1035.7,572.9 1035.7,572.9 C1035.7,572.9 1037.4,568.1 1037.9,565.7 C1038.4,563.3 1038.8,561.0 1038.6,558.6 C1038.3,556.2 1037.2,553.8 1036.4,551.4 C1035.6,549.0 1033.9,546.3 1033.6,544.3 C1033.2,542.3 1034.3,541.0 1034.3,539.3 C1034.3,537.6 1034.2,536.1 1033.6,534.3 C1033.0,532.5 1031.9,530.5 1030.7,528.6 C1029.5,526.7 1027.4,525.0 1026.4,522.9 C1025.5,520.8 1025.6,518.1 1025.0,515.7 C1024.4,513.3 1024.0,510.7 1022.9,508.6 C1021.8,506.5 1019.7,504.1 1018.6,502.9 C1017.5,501.6 1016.1,501.1 1016.1,501.1 Z" fill="#fff"/><path d="M1034.5,568.0 C1034.2,569.2 1033.9,573.2 1032.5,575.0 C1031.1,576.8 1028.3,577.9 1026.0,578.8 C1023.7,579.7 1021.1,580.2 1018.6,580.6 C1016.1,581.0 1012.3,580.9 1011.0,581.0" fill="none" stroke="#fff" stroke-width="2" stroke-linecap="round"/><path d="M956.1,736.4 C956.1,736.4 954.8,742.9 955.0,746.0 C955.2,749.1 956.0,753.3 957.5,755.0 C959.0,756.7 961.3,756.8 964.0,756.4 C966.7,756.0 970.3,754.9 973.5,752.8 C976.7,750.7 980.5,747.0 983.0,744.0 C985.5,741.0 988.5,734.6 988.5,734.6 C988.5,734.6 984.7,739.0 982.0,741.5 C979.3,744.0 975.5,747.6 972.5,749.5 C969.5,751.4 966.2,752.7 964.0,753.0 C961.8,753.3 960.6,752.4 959.5,751.2 C958.4,750.0 957.9,748.5 957.3,746.0 C956.7,743.5 956.1,736.4 956.1,736.4 Z" fill="#fff"/></svg>
</body></html>
